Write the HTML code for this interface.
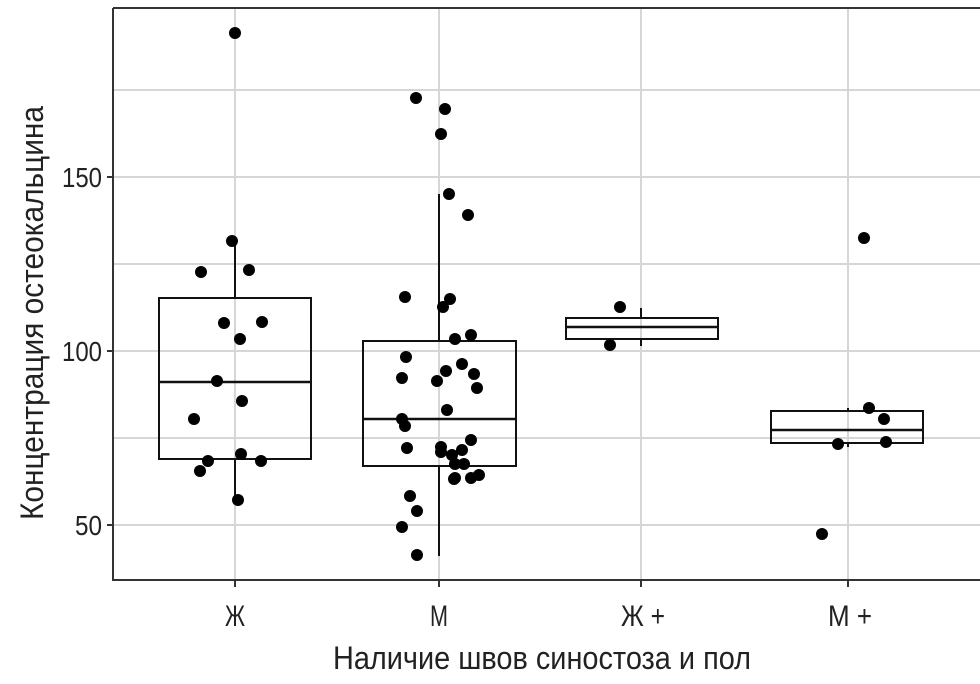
<!DOCTYPE html><html><head><meta charset="utf-8"><style>body{margin:0;background:#fff}</style></head><body>
<svg width="980" height="679" xmlns="http://www.w3.org/2000/svg" font-family="Liberation Sans, DejaVu Sans, sans-serif">
<rect width="980" height="679" fill="#fff"/>
<g stroke="#d6d6d6" stroke-width="2">
<line x1="113" x2="980" y1="90" y2="90"/><line x1="113" x2="980" y1="177" y2="177"/><line x1="113" x2="980" y1="264" y2="264"/><line x1="113" x2="980" y1="351" y2="351"/><line x1="113" x2="980" y1="438" y2="438"/><line x1="113" x2="980" y1="525" y2="525"/>
<line x1="235" x2="235" y1="8" y2="580"/><line x1="439" x2="439" y1="8" y2="580"/><line x1="641" x2="641" y1="8" y2="580"/><line x1="848" x2="848" y1="8" y2="580"/>
</g>
<g stroke="#333" stroke-width="2" fill="none">
<line x1="113" x2="980" y1="8" y2="8"/><line x1="113" x2="113" y1="8" y2="581"/><line x1="113" x2="980" y1="580" y2="580"/>
<line x1="107" x2="113" y1="177" y2="177"/><line x1="107" x2="113" y1="351" y2="351"/><line x1="107" x2="113" y1="525" y2="525"/>
<line x1="235" x2="235" y1="580" y2="587"/><line x1="439" x2="439" y1="580" y2="587"/><line x1="641" x2="641" y1="580" y2="587"/><line x1="848" x2="848" y1="580" y2="587"/>
</g>
<g stroke="#111" stroke-width="2" fill="none">
<line x1="235" x2="235" y1="240" y2="298"/><line x1="235" x2="235" y1="459" y2="500"/>
<rect x="159" y="298" width="152" height="161"/><line x1="159" x2="311" y1="382" y2="382" stroke-width="2.5"/>
<line x1="439" x2="439" y1="194" y2="341"/><line x1="439" x2="439" y1="466" y2="556"/>
<rect x="363" y="341" width="153" height="125"/><line x1="363" x2="516" y1="419" y2="419" stroke-width="2.5"/>
<line x1="641" x2="641" y1="308" y2="318"/><line x1="641" x2="641" y1="339" y2="346"/>
<rect x="566" y="318" width="152" height="21"/><line x1="566" x2="718" y1="327" y2="327" stroke-width="2.5"/>
<line x1="848" x2="848" y1="408" y2="411"/><line x1="848" x2="848" y1="443" y2="447"/>
<rect x="771" y="411" width="152" height="32"/><line x1="771" x2="923" y1="430" y2="430" stroke-width="2.5"/>
</g>
<g fill="#000">
<circle cx="235" cy="33" r="6"/><circle cx="232" cy="241" r="6"/><circle cx="201" cy="272" r="6"/><circle cx="249" cy="270" r="6"/><circle cx="224" cy="323" r="6"/><circle cx="262" cy="322" r="6"/><circle cx="240" cy="339" r="6"/><circle cx="217" cy="381" r="6"/><circle cx="242" cy="401" r="6"/><circle cx="194" cy="419" r="6"/><circle cx="241" cy="454" r="6"/><circle cx="208" cy="461" r="6"/><circle cx="261" cy="461" r="6"/><circle cx="200" cy="471" r="6"/><circle cx="238" cy="500" r="6"/>
<circle cx="416" cy="98" r="6"/><circle cx="445" cy="109" r="6"/><circle cx="441" cy="134" r="6"/><circle cx="449" cy="194" r="6"/><circle cx="468" cy="215" r="6"/><circle cx="405" cy="297" r="6"/><circle cx="450" cy="299" r="6"/><circle cx="443" cy="307" r="6"/><circle cx="471" cy="335" r="6"/><circle cx="455" cy="339" r="6"/><circle cx="406" cy="357" r="6"/><circle cx="462" cy="364" r="6"/><circle cx="446" cy="371" r="6"/><circle cx="474" cy="374" r="6"/><circle cx="402" cy="378" r="6"/><circle cx="437" cy="381" r="6"/><circle cx="477" cy="388" r="6"/><circle cx="447" cy="410" r="6"/><circle cx="402" cy="419" r="6"/><circle cx="405" cy="426" r="6"/><circle cx="471" cy="440" r="6"/><circle cx="407" cy="448" r="6"/><circle cx="441" cy="447" r="6"/><circle cx="441" cy="452" r="6"/><circle cx="462" cy="450" r="6"/><circle cx="452" cy="455" r="6"/><circle cx="455" cy="464" r="6"/><circle cx="464" cy="464" r="6"/><circle cx="455" cy="478" r="6"/><circle cx="471" cy="478" r="6"/><circle cx="479" cy="475" r="6"/><circle cx="454" cy="479" r="6"/><circle cx="410" cy="496" r="6"/><circle cx="417" cy="511" r="6"/><circle cx="402" cy="527" r="6"/><circle cx="417" cy="555" r="6"/>
<circle cx="620" cy="307" r="6"/><circle cx="610" cy="345" r="6"/>
<circle cx="864" cy="238" r="6"/><circle cx="869" cy="408" r="6"/><circle cx="884" cy="419" r="6"/><circle cx="838" cy="444" r="6"/><circle cx="886" cy="442" r="6"/><circle cx="822" cy="534" r="6"/>
</g>
<g font-size="28" fill="#222" text-anchor="end">
<text x="102" y="187" textLength="40" lengthAdjust="spacingAndGlyphs">150</text><text x="102" y="361" textLength="40" lengthAdjust="spacingAndGlyphs">100</text><text x="102" y="535" textLength="27" lengthAdjust="spacingAndGlyphs">50</text>
</g>
<g font-size="30" fill="#222" text-anchor="middle">
<text x="235" y="626" textLength="20" lengthAdjust="spacingAndGlyphs">Ж</text><text x="439" y="626" textLength="18" lengthAdjust="spacingAndGlyphs">М</text><text x="643" y="626" textLength="44" lengthAdjust="spacingAndGlyphs">Ж +</text><text x="850" y="626" textLength="44" lengthAdjust="spacingAndGlyphs">М +</text>
<text x="542" y="669" font-size="32" textLength="418" lengthAdjust="spacingAndGlyphs">Наличие швов синостоза и пол</text>
<text transform="translate(43,313) rotate(-90)" font-size="32" textLength="414" lengthAdjust="spacingAndGlyphs">Концентрация остеокальцина</text>
</g>
</svg>
</body></html>
